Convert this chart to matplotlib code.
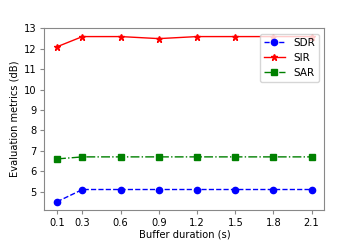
import matplotlib
matplotlib.use("Agg")
import matplotlib.pyplot as plt

x = [0.1, 0.3, 0.6, 0.9, 1.2, 1.5, 1.8, 2.1]
sdr = [4.5, 5.1, 5.1, 5.1, 5.1, 5.1, 5.1, 5.1]
sir = [12.1, 12.6, 12.6, 12.5, 12.6, 12.6, 12.6, 12.6]
sar = [6.6, 6.7, 6.7, 6.7, 6.7, 6.7, 6.7, 6.7]
xticklabels = ["0.1", "0.3", "0.6", "0.9", "1.2", "1.5", "1.8", "2.1"]

plt.rcParams['font.family'] = ['DejaVu Sans']
plt.rcParams['font.size'] = 7.1

fig = plt.figure(figsize=(3.6, 2.4), dpi=100)
ax = fig.add_axes([0.123, 0.125, 0.778, 0.757])
ax.plot(x, sdr, 'b--', marker='o', markersize=4.5, linewidth=1, label='SDR')
ax.plot(x, sir, 'r-', marker='*', markersize=4.5, linewidth=1, label='SIR')
ax.plot(x, sar, 'g-.', marker='s', markersize=4.5, linewidth=1, label='SAR')
ax.set_xticks(x)
ax.set_xticklabels(xticklabels)
ax.set_yticks([5, 6, 7, 8, 9, 10, 11, 12, 13])
ax.set_xlabel('Buffer duration (s)', labelpad=1.5)
ax.set_ylabel('Evaluation metrics (dB)', labelpad=3)
for s in ax.spines.values():
    s.set_color('#888888')
ax.tick_params(color='#888888', length=3, pad=2.5)
ax.legend(loc='upper right', fontsize=7.5, handlelength=2)
fig.savefig('out.png', dpi=100)
